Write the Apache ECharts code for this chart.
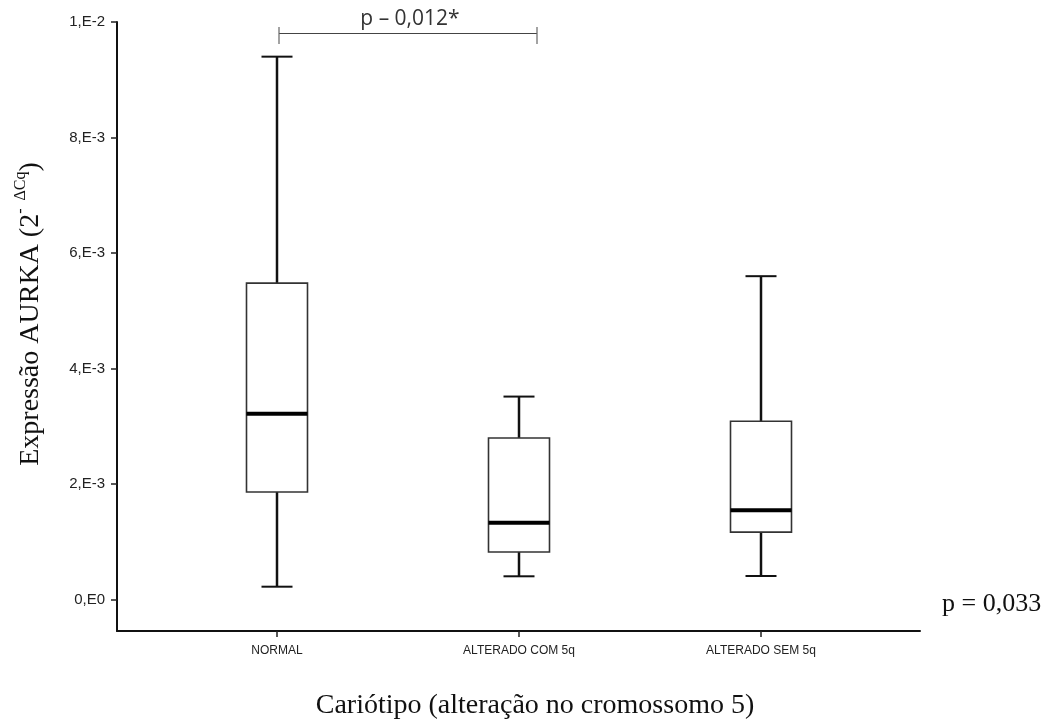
<!DOCTYPE html>
<html>
<head>
<meta charset="utf-8">
<script src="https://cdn.jsdelivr.net/npm/echarts@6.0.0/dist/echarts.min.js"></script>
<style>
html,body{margin:0;padding:0;background:#fff;}
#chart{width:1052px;height:724px;}
</style>
</head>
<body>
<div id="chart"></div>
<script>
const categories = ['NORMAL', 'ALTERADO COM 5q', 'ALTERADO SEM 5q'];
const whiskerLow  = [0.000225, 0.000405, 0.00041];
const q1Values    = [0.001865, 0.000826, 0.00117];
const medianVals  = [0.00322, 0.001334, 0.00155];
const q3Values    = [0.00548, 0.0028, 0.00309];
const whiskerHigh = [0.0094, 0.003516, 0.0056];
const yTickValues = [0, 0.002, 0.004, 0.006, 0.008, 0.01];
const yTickLabels = ['0,E0', '2,E-3', '4,E-3', '6,E-3', '8,E-3', '1,E-2'];
const yMin = -0.000542;
const yMax = 0.01;

const boxData = categories.map((c, i) => [i, whiskerLow[i], q1Values[i], medianVals[i], q3Values[i], whiskerHigh[i]]);

function fmtY(v) {
  let best = 0, bd = Infinity;
  yTickValues.forEach((t, i) => { const d = Math.abs(t - v); if (d < bd) { bd = d; best = i; } });
  return yTickLabels[best];
}

function renderBox(params, api) {
  const idx = api.value(0);
  const x = api.coord([idx, 0])[0];
  const yLo = api.coord([idx, api.value(1)])[1];
  const yQ1 = api.coord([idx, api.value(2)])[1];
  const yMed = api.coord([idx, api.value(3)])[1];
  const yQ3 = api.coord([idx, api.value(4)])[1];
  const yHi = api.coord([idx, api.value(5)])[1];
  const hb = 30.5, hc = 15.5;
  const wStyle = { stroke: '#111', lineWidth: 2.5 };
  const cStyle = { stroke: '#111', lineWidth: 2 };
  return {
    type: 'group',
    children: [
      { type: 'line', shape: { x1: x, y1: yLo, x2: x, y2: yQ1 }, style: wStyle },
      { type: 'line', shape: { x1: x, y1: yQ3, x2: x, y2: yHi }, style: wStyle },
      { type: 'line', shape: { x1: x - hc, y1: yLo, x2: x + hc, y2: yLo }, style: cStyle },
      { type: 'line', shape: { x1: x - hc, y1: yHi, x2: x + hc, y2: yHi }, style: cStyle },
      { type: 'rect', shape: { x: x - hb, y: yQ3, width: hb * 2, height: yQ1 - yQ3 }, style: { fill: '#fff', stroke: '#333', lineWidth: 1.6 } },
      { type: 'line', shape: { x1: x - hb, y1: yMed, x2: x + hb, y2: yMed }, style: { stroke: '#000', lineWidth: 4 } }
    ]
  };
}

const chart = echarts.init(document.getElementById('chart'), null, { renderer: 'canvas' });
const serif = '"Liberation Serif", "Times New Roman", serif';
const sans = '"Liberation Sans", Arial, sans-serif';

chart.setOption({
  backgroundColor: '#fff',
  animation: false,
  grid: [
    { left: 117, right: 132, top: 22, bottom: 93, containLabel: false, outerBoundsMode: 'none' },
    { left: 156, right: 170, top: 22, bottom: 93, containLabel: false, outerBoundsMode: 'none' }
  ],
  xAxis: [
    { gridIndex: 0, type: 'value', min: 0, max: 1,
      axisLine: { show: true, onZero: false, lineStyle: { color: '#111', width: 2 } },
      axisTick: { show: false }, axisLabel: { show: false }, splitLine: { show: false } },
    { gridIndex: 1, type: 'category', data: categories, boundaryGap: true,
      axisLine: { show: false, onZero: false },
      axisTick: { show: true, alignWithLabel: true, length: 6, lineStyle: { color: '#222', width: 1.5 } },
      axisLabel: { show: true, margin: 14, interval: 0, color: '#222', fontSize: 12, fontFamily: sans },
      splitLine: { show: false } }
  ],
  yAxis: [
    { gridIndex: 0, type: 'value', min: yMin, max: yMax,
      axisLine: { show: true, lineStyle: { color: '#111', width: 2 } },
      axisTick: { show: true, customValues: yTickValues, length: 6, lineStyle: { color: '#222', width: 1.5 } },
      axisLabel: { show: true, customValues: yTickValues, formatter: fmtY, margin: 12, color: '#222', fontSize: 15, fontFamily: sans },
      splitLine: { show: false } },
    { gridIndex: 1, type: 'value', min: yMin, max: yMax, show: false }
  ],
  series: [
    { type: 'custom', name: 'AURKA', xAxisIndex: 1, yAxisIndex: 1,
      renderItem: renderBox, encode: { x: 0, y: [1, 2, 3, 4, 5] }, data: boxData, clip: false }
  ],
  graphic: [
    { type: 'text', x: 29, y: 314, rotation: Math.PI / 2,
      style: { text: '{b|Expressão AURKA (2}{s|-  ΔCq}{b|)}', align: 'center', verticalAlign: 'middle',
        rich: { b: { fontFamily: serif, fontSize: 28, fill: '#111', lineHeight: 32, verticalAlign: 'bottom' },
                s: { fontFamily: serif, fontSize: 16, fill: '#111', lineHeight: 32, verticalAlign: 'top' } } } },
    { type: 'text', x: 535, y: 706,
      style: { text: 'Cariótipo (alteração no cromossomo 5)', align: 'center', verticalAlign: 'middle',
        font: '28px ' + serif, fill: '#111' } },
    { type: 'text', x: 942, y: 604,
      style: { text: 'p = 0,033', align: 'left', verticalAlign: 'middle', font: '26px ' + serif, fill: '#111' } },
    { type: 'text', x: 410, y: 19,
      style: { text: 'p – 0,012*', align: 'center', verticalAlign: 'middle', font: '21px "Open Sans", ' + sans, fill: '#333' } },
    { type: 'line', shape: { x1: 279, y1: 33.5, x2: 537, y2: 33.5 }, style: { stroke: '#444', lineWidth: 1 } },
    { type: 'line', shape: { x1: 279, y1: 27, x2: 279, y2: 44 }, style: { stroke: '#666', lineWidth: 1.2 } },
    { type: 'line', shape: { x1: 537, y1: 27, x2: 537, y2: 44 }, style: { stroke: '#666', lineWidth: 1.2 } }
  ]
});
</script>
</body>
</html>
